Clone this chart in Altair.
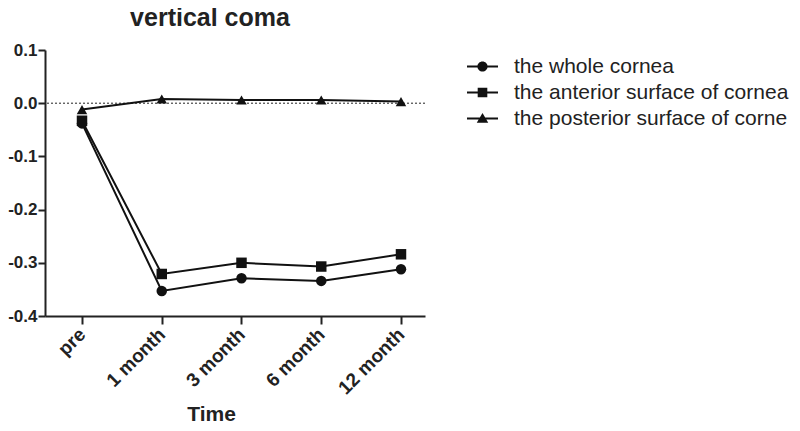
import altair as alt
import pandas as pd

times = ["pre", "1 month", "3 month", "6 month", "12 month"]
series_names = ["the whole cornea", "the anterior surface of cornea", "the posterior surface of corne"]
whole = [-0.038, -0.353, -0.329, -0.334, -0.312]
anterior = [-0.033, -0.321, -0.300, -0.307, -0.284]
posterior = [-0.012, 0.008, 0.006, 0.006, 0.003]
y_ticks = [-0.4, -0.3, -0.2, -0.1, 0.0, 0.1]

rows = []
for name, vals in zip(series_names, [whole, anterior, posterior]):
    for i, (t, v) in enumerate(zip(times, vals)):
        rows.append({"idx": i, "Time": t, "value": v, "series": name, "legend_series": name})
df = pd.DataFrame(rows)

FONT = "Liberation Sans"
label_list = "[" + ",".join("'" + t + "'" for t in times) + "]"

# legend glyphs: a short line through the marker (unit box -1..1)
bar = "M-1,-0.065H1V0.065H-1Z"
legend_paths = [
    bar + " M0.33,0A0.33,0.33 0 1,1 -0.33,0A0.33,0.33 0 1,1 0.33,0Z",
    bar + " M-0.31,-0.31H0.31V0.31H-0.31Z",
    bar + " M0,-0.36L0.37,0.28H-0.37Z",
]

x_enc = alt.X("idx:Q",
              scale=alt.Scale(domain=[-0.464, 4.301], nice=False, zero=False),
              axis=alt.Axis(title="Time", values=list(range(len(times))),
                            labelExpr=label_list + "[datum.value]",
                            labelAngle=-45, labelAlign="right", labelBaseline="middle",
                            labelFontSize=19, labelFontWeight="bold", labelColor="#222",
                            titleFontSize=21, titleFontWeight="bold", titleColor="#222",
                            titleX=166, titleY=104, titleAlign="center", titleBaseline="alphabetic",
                            tickSize=8, tickWidth=2, domainWidth=2,
                            domainColor="#222", tickColor="#222", labelPadding=7, grid=False,
                            labelFlush=False, labelOverlap=False))
y_enc = alt.Y("value:Q", scale=alt.Scale(domain=[-0.4, 0.1], nice=False, zero=False),
              axis=alt.Axis(title=None, values=y_ticks,
                            labelExpr="replace(format(datum.value, '.1f'), '\u2212', '-')",
                            labelFontSize=17, labelFontWeight="bold", labelColor="#222",
                            tickSize=7, tickWidth=2, domainWidth=2, domainColor="#222",
                            tickColor="#222", labelPadding=1, grid=False, labelFlush=False))

lines = alt.Chart(df).mark_line(color="#111", strokeWidth=2).encode(
    x=x_enc, y=y_enc, detail="series:N")

points = alt.Chart(df).mark_point(filled=True, color="#111", opacity=1, size=110).encode(
    x="idx:Q", y="value:Q",
    shape=alt.Shape("series:N", sort=series_names,
                    scale=alt.Scale(domain=series_names, range=["circle", "square", "triangle-up"]),
                    legend=None))

legend_layer = alt.Chart(df).mark_point(filled=True, color="#111", opacity=0, size=961).encode(
    x="idx:Q", y="value:Q",
    shape=alt.Shape("legend_series:N", sort=series_names,
                    scale=alt.Scale(domain=series_names, range=legend_paths),
                    legend=alt.Legend(title=None, orient="none", legendX=422, legendY=1,
                                      labelFontSize=21, labelColor="#222", labelFont=FONT,
                                      symbolSize=961, symbolFillColor="#111", symbolStrokeColor="#111",
                                      symbolStrokeWidth=0, symbolOpacity=1,
                                      rowPadding=0, labelOffset=16, labelLimit=400)))

zero = alt.Chart(pd.DataFrame({"z": [0.0]})).mark_rule(color="#222", strokeDash=[2, 2], strokeWidth=1).encode(
    y="z:Q")

chart = alt.layer(zero, lines, points, legend_layer).resolve_scale(shape="independent").properties(
    width=380, height=266,
    title=alt.TitleParams("vertical coma", fontSize=25, fontWeight="bold", font=FONT,
                          color="#222", anchor="middle", dx=-25, offset=10),
    autosize=alt.AutoSizeParams(type="none"),
    padding={"left": 37, "top": 42, "right": 367, "bottom": 107},
).configure(font=FONT).configure_view(stroke=None)

chart.save("out.html", embed_options={"renderer": "svg", "actions": False})
